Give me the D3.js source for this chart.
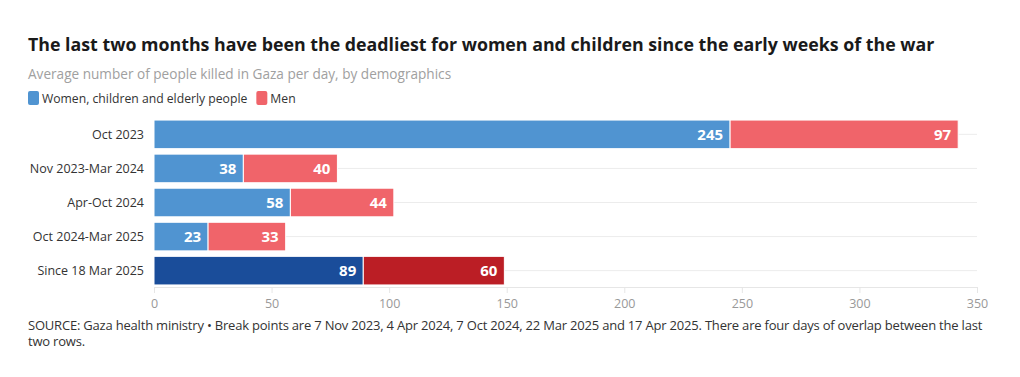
<!DOCTYPE html>
<html>
<head>
<meta charset="utf-8">
<script src="https://cdn.jsdelivr.net/npm/d3@7"></script>
<style>
  body { margin: 0; background: #fff; font-family: "Open Sans", "Noto Sans", sans-serif; }
  svg text { font-family: "Open Sans", "Noto Sans", sans-serif; }
</style>
</head>
<body>
<div id="chart"></div>
<script>
var categories = ["Oct 2023", "Nov 2023-Mar 2024", "Apr-Oct 2024", "Oct 2024-Mar 2025", "Since 18 Mar 2025"];
var womenChildren = [245, 38, 58, 23, 89];
var men = [97, 40, 44, 33, 60];
var xTicks = [0, 50, 100, 150, 200, 250, 300, 350];
var seriesNames = ["Women, children and elderly people", "Men"];

var width = 1020, height = 377;
var margin = { top: 118, left: 154, right: 43, bottom: 90 };
var chartWidth = width - margin.left - margin.right;
var chartHeight = 287 - margin.top;

var colors = {
  light: ["#5094d1", "#f0646a"],
  dark: ["#1a4d9a", "#bb1e25"]
};

var svg = d3.select("#chart")
  .append("svg")
  .attr("width", width)
  .attr("height", height);

// title + subtitle
svg.append("text")
  .attr("x", 28).attr("y", 51)
  .attr("font-size", 17.8).attr("font-weight", 700)
  .attr("fill", "#1a1a1a")
  .text("The last two months have been the deadliest for women and children since the early weeks of the war");

svg.append("text")
  .attr("x", 28).attr("y", 79)
  .attr("font-size", 13.6)
  .attr("fill", "#a0a0a0")
  .text("Average number of people killed in Gaza per day, by demographics");

// legend
var legend = svg.append("g").attr("transform", "translate(28,91)");
var lx = 0;
seriesNames.forEach(function (name, i) {
  var g = legend.append("g").attr("transform", "translate(" + lx + ",0)");
  g.append("rect")
    .attr("width", 11).attr("height", 14).attr("rx", 2)
    .attr("fill", colors.light[i]);
  var t = g.append("text")
    .attr("x", 14).attr("y", 11.5)
    .attr("font-size", 12.2).attr("fill", "#333")
    .text(name);
  lx += 14 + t.node().getComputedTextLength() + 9;
});

var chart = svg.append("g")
  .attr("transform", "translate(" + margin.left + "," + margin.top + ")");

var x = d3.scaleLinear().domain([0, 350]).range([0, chartWidth]);
var y = d3.scaleBand().domain(categories).range([0, chartHeight]).paddingInner(0.16).paddingOuter(0.06);

// gridlines through row centres
chart.append("g")
  .selectAll("line")
  .data(categories)
  .join("line")
  .attr("x1", 0).attr("x2", chartWidth)
  .attr("y1", d => y(d) + y.bandwidth() / 2)
  .attr("y2", d => y(d) + y.bandwidth() / 2)
  .attr("stroke", "#ececec");

// x axis
var xAxis = chart.append("g")
  .attr("transform", "translate(0," + chartHeight + ")")
  .call(d3.axisBottom(x).tickValues(xTicks).tickSize(6).tickPadding(6));
xAxis.select(".domain").attr("stroke", "#e6e6e6");
xAxis.selectAll(".tick line").attr("stroke", "#e6e6e6");
xAxis.selectAll(".tick text").attr("font-size", 12.5).attr("fill", "#999");

// category labels
chart.append("g")
  .selectAll("text")
  .data(categories)
  .join("text")
  .attr("x", -10)
  .attr("y", d => y(d) + y.bandwidth() / 2)
  .attr("dy", "0.35em")
  .attr("text-anchor", "end")
  .attr("font-size", 12.5)
  .attr("fill", "#333")
  .text(d => d);

// stacked segments
var rows = categories.map(function (c, i) {
  return { cat: c, vals: [womenChildren[i], men[i]], dark: i === categories.length - 1 };
});

rows.forEach(function (r) {
  var start = 0;
  r.vals.forEach(function (v, j) {
    var x0 = x(start), x1 = x(start + v);
    var fill = r.dark ? colors.dark[j] : colors.light[j];
    chart.append("rect")
      .attr("x", x0)
      .attr("y", y(r.cat))
      .attr("width", x1 - x0)
      .attr("height", y.bandwidth())
      .attr("fill", fill)
      .attr("stroke", "#fff")
      .attr("stroke-width", 1);
    chart.append("text")
      .attr("x", x1 - 7)
      .attr("y", y(r.cat) + y.bandwidth() / 2)
      .attr("dy", "0.36em")
      .attr("text-anchor", "end")
      .attr("font-size", 15)
      .attr("font-weight", 700)
      .attr("fill", "#fff")
      .text(v);
    start += v;
  });
});

// source note, wrapped into separate lines
var src = "SOURCE: Gaza health ministry \u2022 Break points are 7 Nov 2023, 4 Apr 2024, 7 Oct 2024, 22 Mar 2025 and 17 Apr 2025. There are four days of overlap between the last two rows.";
var noteY = 330;
function noteLine(y) {
  return svg.append("text")
    .attr("x", 28).attr("y", y)
    .attr("font-size", 13).attr("fill", "#333")
    .attr("font-family", "'Liberation Sans Narrow', 'Roboto', sans-serif")
    .attr("letter-spacing", "-0.2");
}
var words = src.split(" "), line = [];
var cur = noteLine(noteY);
words.forEach(function (w) {
  line.push(w);
  cur.text(line.join(" "));
  if (cur.node().getComputedTextLength() > 955) {
    line.pop();
    cur.text(line.join(" "));
    line = [w];
    noteY += 16;
    cur = noteLine(noteY).text(w);
  }
});
</script>
</body>
</html>
